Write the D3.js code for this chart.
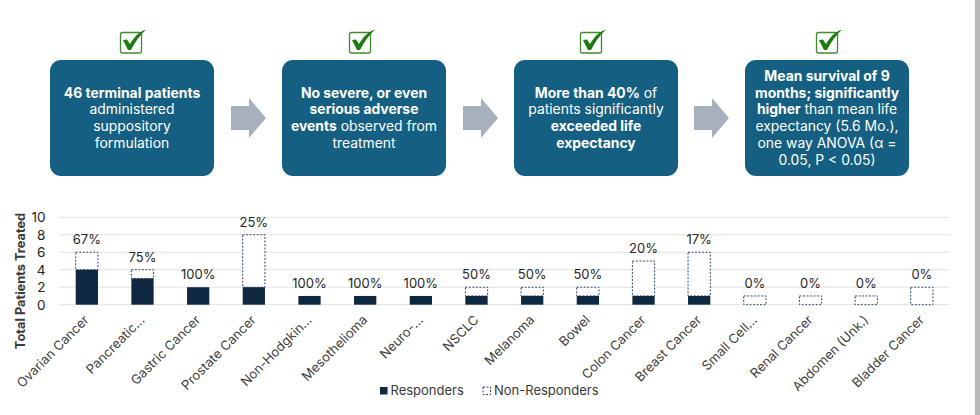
<!DOCTYPE html>
<html><head><meta charset="utf-8">
<script src="https://cdn.jsdelivr.net/npm/d3@7"></script>
<style>html,body{margin:0;padding:0;background:#fff;overflow:hidden}svg{display:block}text{font-family:"Inter","Noto Sans",sans-serif}</style>
</head><body><svg id="c" width="980" height="415"></svg>
<script>
const categories=["Ovarian Cancer","Pancreatic…","Gastric Cancer","Prostate Cancer","Non-Hodgkin…","Mesothelioma","Neuro-…","NSCLC","Melanoma","Bowel","Colon Cancer","Breast Cancer","Small Cell…","Renal Cancer","Abdomen (Unk.)","Bladder Cancer"];
const responders=[4,3,2,2,1,1,1,1,1,1,1,1,0,0,0,0];
const nonResponders=[2,1,0,6,0,0,0,1,1,1,4,5,1,1,1,2];
const pctLabels=["67%","75%","100%","25%","100%","100%","100%","50%","50%","50%","20%","17%","0%","0%","0%","0%"];
const yTicks=[0,2,4,6,8,10];
const boxes=[
 [[["46 terminal patients",1]],[["administered",0]],[["suppository",0]],[["formulation",0]]],
 [[["No severe, or even",1]],[["serious adverse",1]],[["events",1],[" observed from",0]],[["treatment",0]]],
 [[["More than 40%",1],[" of",0]],[["patients significantly",0]],[["exceeded life",1]],[["expectancy",1]]],
 [[["Mean survival of 9",1]],[["months; significantly",1]],[["higher",1],[" than mean life",0]],[["expectancy (5.6 Mo.),",0]],[["one way ANOVA (α =",0]],[["0.05, P < 0.05)",0]]]
];
const boxLefts=[50,282,514,745];
const arrowLefts=[231,463,694];
const checkCentres=[131,360,591,827];
const legendItems=["Responders","Non-Responders"];
const yTitle="Total Patients Treated";

const svg=d3.select("#c");
const navy="#0e2841",teal="#156082",grayT="#262626";

// scrollbar strip
svg.append("rect").attr("x",975).attr("y",0).attr("width",5).attr("height",415).attr("fill","#b8b8b8");

// flow boxes
const boxW=164,boxH=116,boxTop=60;
boxes.forEach((lines,i)=>{
  const g=svg.append("g").attr("transform",`translate(${boxLefts[i]},${boxTop})`);
  g.append("rect").attr("width",boxW).attr("height",boxH).attr("rx",11).attr("fill",teal);
  const lh=16.8, y0=boxH/2-(lines.length-1)*lh/2+4.8;
  lines.forEach((runs,j)=>{
    const t=g.append("text").attr("x",boxW/2).attr("y",y0+j*lh).attr("text-anchor","middle").attr("fill","#fff").attr("font-size",13.9);
    runs.forEach(r=>t.append("tspan").attr("font-weight",r[1]?700:400).attr("xml:space","preserve").text(r[0]));
  });
});
// arrows
arrowLefts.forEach(x=>{
  const p=d3.path();
  p.moveTo(x,106);p.lineTo(x+18,106);p.lineTo(x+18,98);p.lineTo(x+35,118);p.lineTo(x+18,138);p.lineTo(x+18,130);p.lineTo(x,130);p.closePath();
  svg.append("path").attr("d",p.toString()).attr("fill","#a6b1bd");
});
// check boxes
checkCentres.forEach(cx=>{
  const g=svg.append("g").attr("transform",`translate(${cx},43)`);
  g.append("rect").attr("x",-10.5).attr("y",-10.5).attr("width",21).attr("height",20.5).attr("rx",2).attr("fill","#fff").attr("stroke","#3f8a2f").attr("stroke-width",1.3);
  g.append("path").attr("d","M-8,-3 L-4,-3.5 L-1,1 C3,-6 8,-11 15,-13.5 C9,-8 4,-1 0,7 L-3,7 Z").attr("fill","#1f7a12");
});

// chart
const x=d3.scaleBand().domain(categories).range([59,949.7]).paddingInner(0.6).paddingOuter(0.3);
const y=d3.scaleLinear().domain([0,10]).range([304.7,217.3]);
const gridG=svg.append("g");
gridG.selectAll("line").data(yTicks).join("line").attr("x1",59).attr("x2",949.7).attr("y1",d=>y(d)).attr("y2",d=>y(d)).attr("stroke","#e2e2e2").attr("stroke-width",1);
const yAxis=d3.axisLeft(y).tickValues(yTicks).tickSize(0).tickPadding(0);
const yg=svg.append("g").attr("transform","translate(45.5,0)").call(yAxis);
yg.select(".domain").remove();
yg.selectAll("text").attr("font-size",13.6).attr("fill",grayT);

const rows=categories.map((c,i)=>({c,r:responders[i],n:nonResponders[i],l:pctLabels[i]}));
svg.append("g").selectAll("rect").data(rows.filter(d=>d.n>0)).join("rect")
 .attr("x",d=>x(d.c)).attr("width",x.bandwidth())
 .attr("y",d=>y(d.r+d.n)).attr("height",d=>y(d.r)-y(d.r+d.n))
 .attr("fill","#fff").attr("stroke","#2f4a66").attr("stroke-width",1).attr("stroke-dasharray","2 1.5");
svg.append("g").selectAll("rect").data(rows.filter(d=>d.r>0)).join("rect")
 .attr("x",d=>x(d.c)).attr("width",x.bandwidth())
 .attr("y",d=>y(d.r)).attr("height",d=>y(0)-y(d.r)).attr("fill",navy);
svg.append("g").selectAll("text").data(rows).join("text")
 .attr("x",d=>x(d.c)+x.bandwidth()/2).attr("y",d=>y(d.r+d.n)-8)
 .attr("text-anchor","middle").attr("font-size",13).attr("fill",grayT).text(d=>d.l);
// category labels
const xg=svg.append("g").attr("transform","translate(0,304.7)").call(d3.axisBottom(x).tickSize(0));
xg.select(".domain").remove();
xg.selectAll("text").attr("text-anchor","end").attr("font-size",13).attr("fill","#404040")
  .attr("dy",0).attr("y",0).attr("x",0)
  .attr("transform","translate(3,16) rotate(-45)");
// y title
svg.append("text").attr("transform","translate(25,281) rotate(-90)").attr("text-anchor","middle")
  .attr("font-size",12.8).attr("font-weight",700).attr("fill","#3a3a3a").text(yTitle);
// legend
const lg=svg.append("g");
lg.append("rect").attr("x",380).attr("y",387).attr("width",7.5).attr("height",7.5).attr("fill",navy);
lg.append("text").attr("x",390.5).attr("y",395).attr("font-size",13).attr("fill","#3a3a3a").text(legendItems[0]);
lg.append("rect").attr("x",483).attr("y",387).attr("width",7.5).attr("height",7.5).attr("fill","#fff").attr("stroke","#2f4a66").attr("stroke-dasharray","2 1.5");
lg.append("text").attr("x",494).attr("y",395).attr("font-size",13).attr("fill","#3a3a3a").text(legendItems[1]);
</script></body></html>
